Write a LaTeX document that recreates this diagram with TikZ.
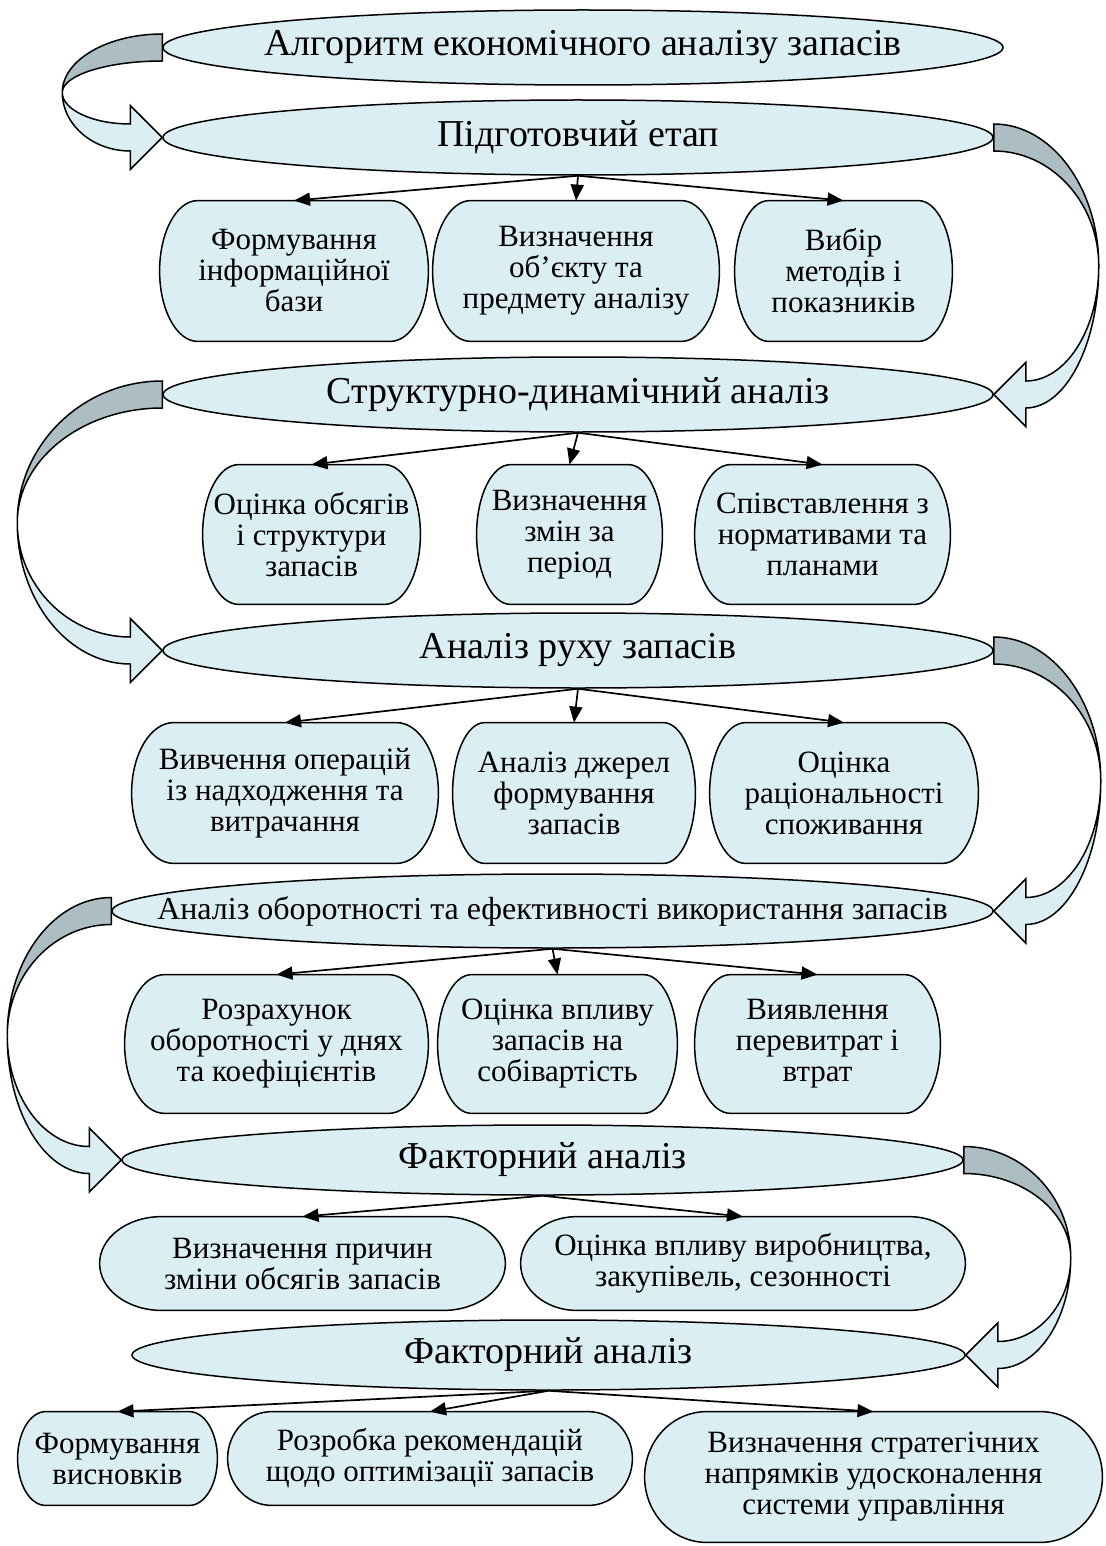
\documentclass[tikz,border=0pt]{standalone}
\usepackage{fontspec}
\setmainfont{Liberation Serif}
\usetikzlibrary{arrows.meta,shapes.geometric,backgrounds,calc}
\definecolor{aquafill}{RGB}{219,238,243}
\definecolor{aquashade}{RGB}{172,190,195}
\newcommand{\phasefont}{\fontsize{19}{21}\selectfont}
\newcommand{\boxfont}{\fontsize{15.5}{15.5}\selectfont}
\newcommand{\flatline}[1]{\makebox[0pt]{#1}}
% twisted block arrow between two ellipses:
% #1 start anchor, #2 end anchor, #3 side (1 left, -1 right), #4 bulge
\newcommand{\twistarrow}[4]{%
  \path[ribbonback] let \p1=(#1), \p2=(#2) in
    (\x1,{\y1+6.75pt})
    .. controls ({\x1-(#3)*0.55*#4},{\y1+6.75pt})
           and ({\x1-(#3)*#4},{0.5*(\y1+\y2)+0.55*(0.5*(\y1-\y2)+6.75pt)}) ..
    ({\x1-(#3)*#4},{0.5*(\y1+\y2)})
    .. controls ({\x1-(#3)*#4},{0.5*(\y1+\y2)+0.55*(0.5*(\y1-\y2)-6.75pt)})
           and ({\x1-(#3)*0.55*#4},{\y1-6.75pt}) ..
    (\x1,{\y1-6.75pt}) -- cycle;
  \path[ribbonfront] let \p1=(#1), \p2=(#2) in
    ({\x1-(#3)*#4},{0.5*(\y1+\y2)})
    .. controls ({\x1-(#3)*#4},{0.5*(\y1+\y2)+0.55*(0.5*(\y2-\y1)-6.75pt)})
           and ({\x2-(#3)*16pt+0.55*(\x1-(#3)*#4-\x2+(#3)*16pt)},{\y2-6.75pt}) ..
    ({\x2-(#3)*16pt},{\y2-6.75pt}) -- ({\x2-(#3)*16pt},{\y2-16pt}) -- (\x2,\y2)
    -- ({\x2-(#3)*16pt},{\y2+16pt}) -- ({\x2-(#3)*16pt},{\y2+6.75pt})
    .. controls ({\x2-(#3)*16pt+0.55*(\x1-(#3)*#4-\x2+(#3)*16pt)},{\y2+6.75pt})
           and ({\x1-(#3)*#4},{0.5*(\y1+\y2)+0.55*(0.5*(\y2-\y1)+6.75pt)}) ..
    ({\x1-(#3)*#4},{0.5*(\y1+\y2)}) -- cycle;
}

\begin{document}
\begin{tikzpicture}[x=0.5pt, y=-0.5pt,
                    phase/.style={ellipse,
                                  draw,
                                  fill=aquafill,
                                  line width=0.75pt,
                                  inner sep=0pt,
                                  font=\phasefont},
                    stagebox/.style={rectangle,
                                     inner sep=0pt,
                                     align=center,
                                     font=\boxfont},
                    boxline/.style={draw, fill=aquafill, line width=0.75pt},
                    flowarrow/.style={-{Triangle[length=8pt,width=6.5pt]}, line width=0.85pt},
                    ribbonback/.style={draw, fill=aquashade, line width=0.75pt},
                    ribbonfront/.style={draw, fill=aquafill, line width=0.75pt}]
    \useasboundingbox (0,0) rectangle (1105,1546);

    % stages
    \node[phase, minimum width=420pt, minimum height=37.5pt](E1) at (583,47.5)
        {\flatline{Алгоритм економічного аналізу запасів}};
    \node[phase, minimum width=415pt, minimum height=37.5pt](E2) at (578,137.5)
        {\flatline{Підготовчий етап}};
    \node[phase, minimum width=415pt, minimum height=37.5pt](E3) at (578,394.5)
        {\flatline{Структурно-динамічний аналіз}};
    \node[phase, minimum width=415pt, minimum height=37.5pt](E4) at (578,650.5)
        {\flatline{Аналіз руху запасів}};
    \node[phase, minimum width=440.5pt, minimum height=37pt,
          font=\fontsize{16}{18}\selectfont](E5) at (552.5,911)
        {\flatline{Аналіз оборотності та ефективності використання запасів}};
    \node[phase, minimum width=420.5pt, minimum height=35pt](E6) at (542.5,1160)
        {\flatline{Факторний аналіз}};
    \node[phase, minimum width=416.5pt, minimum height=35pt](E7) at (548.5,1355)
        {\flatline{Факторний аналіз}};

    % tasks
    \node[stagebox, minimum width=134pt, minimum height=70pt](B11) at (294,271)
        {Формування\\інформаційної\\бази};
    \node[stagebox, minimum width=143pt, minimum height=70pt](B12) at (576,271)
        {Визначення\\об’єкту та\\предмету аналізу};
    \node[stagebox, minimum width=108.5pt, minimum height=70pt](B13) at (843.5,271)
        {Вибір\\методів і\\показників};
    \node[stagebox, minimum width=108.5pt, minimum height=69.5pt](B21) at (311.5,534.5)
        {Оцінка обсягів\\і структури\\запасів};
    \node[stagebox, minimum width=92.5pt, minimum height=69.5pt](B22) at (569.5,534.5)
        {Визначення\\змін за\\період};
    \node[stagebox, minimum width=127.5pt, minimum height=69.5pt](B23) at (822.5,534.5)
        {Співставлення з\\нормативами та\\планами};
    \node[stagebox, minimum width=153pt, minimum height=70pt](B31) at (285,793)
        {Вивчення операцій\\із надходження та\\витрачання};
    \node[stagebox, minimum width=121pt, minimum height=70pt](B32) at (574,793)
        {Аналіз джерел\\формування\\запасів};
    \node[stagebox, minimum width=134pt, minimum height=70pt](B33) at (844,793)
        {Оцінка\\раціональності\\споживання};
    \node[stagebox, minimum width=151.5pt, minimum height=69pt](B41) at (276.5,1044)
        {Розрахунок\\оборотності у днях\\та коефіцієнтів};
    \node[stagebox, minimum width=119.5pt, minimum height=69pt](B42) at (557.5,1044)
        {Оцінка впливу\\запасів на\\собівартість};
    \node[stagebox, minimum width=122.5pt, minimum height=69pt](B43) at (817.5,1044)
        {Виявлення\\перевитрат і\\втрат};
    \node[stagebox, minimum width=202.5pt, minimum height=46.5pt](B51) at (302.5,1263.5)
        {Визначення причин\\зміни обсягів запасів};
    \node[stagebox, minimum width=222pt, minimum height=46.5pt](B52) at (743,1263.5)
        {Оцінка впливу виробництва,\\закупівель, сезонності};
    \node[stagebox, minimum width=99.5pt, minimum height=46.5pt](B61) at (117.5,1458.5)
        {Формування\\висновків};
    \node[stagebox, minimum width=202pt, minimum height=46.5pt](B62) at (430,1458.5)
        {Розробка рекомендацій\\щодо оптимізації запасів};
    \node[stagebox, minimum width=228.5pt, minimum height=65pt](B63) at (873.5,1477)
        {Визначення стратегічних\\напрямків удосконалення\\системи управління};

    % box outlines behind the texts
    \begin{scope}[on background layer]
        \foreach \bx/\rad in {B11/19pt, B12/19pt, B13/17pt,
                              B21/18pt, B22/17pt, B23/18pt,
                              B31/21pt, B32/16pt, B33/18pt,
                              B41/20pt, B42/17pt, B43/18pt,
                              B51/31pt, B52/28pt,
                              B61/14pt, B62/22pt, B63/31pt}
            \path[boxline] let \p1=(\bx.north west), \p2=(\bx.south east) in
                ({\x1+\rad},\y1) -- ({\x2-\rad},\y1)
                arc[start angle=90, end angle=-90, x radius=\rad, y radius={0.5*(\y1-\y2)}]
                -- ({\x1+\rad},\y2)
                arc[start angle=270, end angle=90, x radius=\rad, y radius={0.5*(\y1-\y2)}]
                -- cycle;
    \end{scope}

    % stage to tasks
    \path[flowarrow]
        (E2.south) edge (B11.north)
                   edge (B12.north)
                   edge (B13.north)
        (E3.south) edge (B21.north)
                   edge (B22.north)
                   edge (B23.north)
        (E4.south) edge (B31.north)
                   edge (B32.north)
                   edge (B33.north)
        (E5.south) edge (B41.north)
                   edge (B42.north)
                   edge (B43.north)
        (E6.south) edge (B51.north)
                   edge (B52.north)
        (E7.south) edge (B61.north)
                   edge (B62.north)
                   edge (B63.north)
        ;

    % stage to stage
    \twistarrow{E1.west}{E2.west}{1}{50pt}
    \twistarrow{E2.east}{E3.east}{-1}{52.5pt}
    \twistarrow{E3.west}{E4.west}{1}{72.5pt}
    \twistarrow{E4.east}{E5.east}{-1}{53.5pt}
    \twistarrow{E5.west}{E6.west}{1}{52pt}
    \twistarrow{E6.east}{E7.east}{-1}{53.5pt}
\end{tikzpicture}
\end{document}
